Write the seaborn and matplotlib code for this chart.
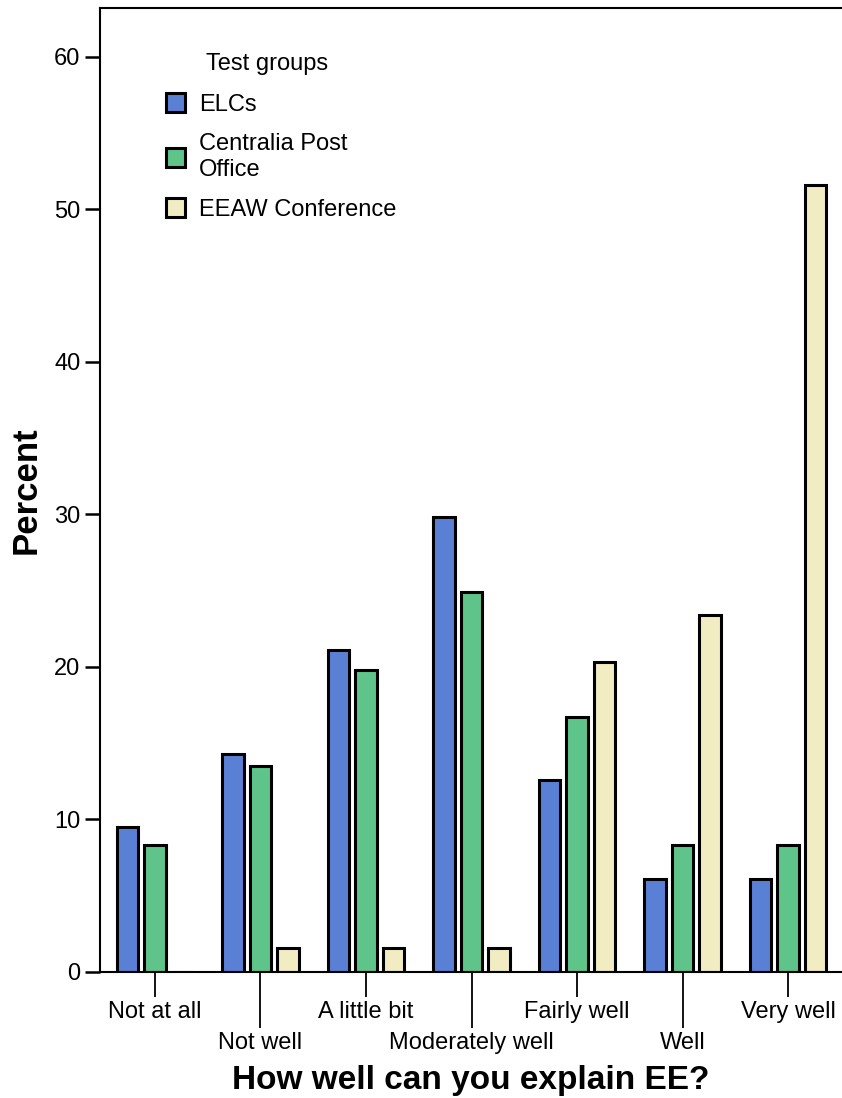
import numpy as np
import pandas as pd
import seaborn as sns
import matplotlib.pyplot as plt

categories = ["Not at all", "Not well", "A little bit", "Moderately well",
              "Fairly well", "Well", "Very well"]
groups = ["ELCs", "Centralia Post\nOffice", "EEAW Conference"]
elcs = [9.5, 14.3, 21.1, 29.8, 12.6, 6.1, 6.1]
centralia = [8.3, 13.5, 19.8, 24.9, 16.7, 8.3, 8.3]
eeaw = [0.0, 1.6, 1.6, 1.6, 20.3, 23.4, 51.6]
colors = ["#5a80d6", "#5ec48a", "#f1ecc2"]

rows = []
for grp, vals in zip(groups, [elcs, centralia, eeaw]):
    for cat, v in zip(categories, vals):
        rows.append({"cat": cat, "group": grp, "pct": v})
df = pd.DataFrame(rows)

sns.set_style("ticks")
plt.rcParams['font.family'] = ['Liberation Sans', 'DejaVu Sans']
plt.rcParams['text.color'] = 'black'
plt.rcParams['axes.labelcolor'] = 'black'
plt.rcParams['xtick.color'] = 'black'
plt.rcParams['ytick.color'] = 'black'

fig = plt.figure(figsize=(8.42, 10.98), dpi=100)
ax = fig.add_axes([100 / 842, 1 - 972 / 1098, 742 / 842, 964 / 1098])

sns.barplot(data=df, x="cat", y="pct", hue="group", order=categories,
            hue_order=groups, palette=colors, saturation=1, width=0.78, gap=0.22,
            edgecolor="black", linewidth=2.2, ax=ax)

ax.set_xlim(-0.52, 6.51)
ax.set_ylim(0, 63.2)
ax.set_yticks([0, 10, 20, 30, 40, 50, 60])
ax.tick_params(axis="y", labelsize=17, length=11, width=1.8, direction="out", pad=3)

# staggered category labels: even positions short ticks, odd ones long ticks
ax.set_xticks([0, 2, 4, 6])
ax.set_xticklabels([categories[i] for i in [0, 2, 4, 6]])
ax.set_xticks([1, 3, 5], minor=True)
ax.set_xticklabels([categories[i] for i in [1, 3, 5]], minor=True)
ax.tick_params(axis="x", which="major", labelsize=17, length=18, width=1.3, pad=3)
ax.tick_params(axis="x", which="minor", labelsize=17, length=40, width=1.3, pad=3)

ax.set_xlabel("How well can you explain EE?", fontsize=24, fontweight="bold", labelpad=8)
ax.set_ylabel("Percent", fontsize=25, fontweight="bold", labelpad=8)

for side in ["left", "bottom", "top"]:
    ax.spines[side].set_linewidth(1.5)
    ax.spines[side].set_color("black")
ax.spines["right"].set_visible(False)

leg = ax.legend(title="Test groups", loc="upper left", bbox_to_anchor=(0.06, 0.975),
                frameon=False, fontsize=17, title_fontsize=17, labelspacing=0.75,
                handlelength=0.8, handleheight=0.85, handletextpad=0.6)
leg._legend_box.align = "left"
leg.get_title().set_position((40, 0))

fig.savefig("out.png", dpi=100)
